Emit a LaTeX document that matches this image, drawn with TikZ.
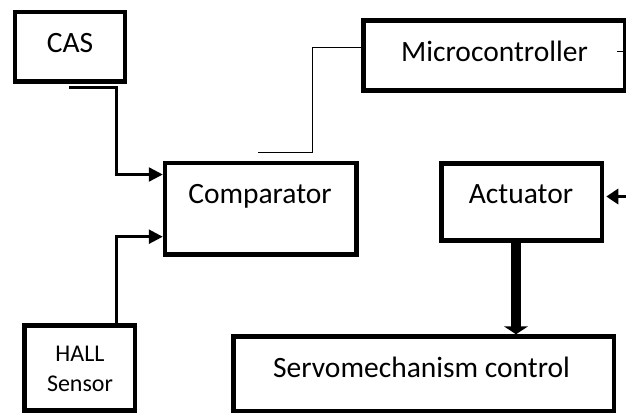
\documentclass[tikz,border=0pt]{standalone}
\usepackage{fontspec}
\setmainfont{Carlito}
\usetikzlibrary{arrows.meta}
\begin{document}
\begin{tikzpicture}[x=1pt,y=-1pt,
  box/.style={draw, line width=4.5pt, rectangle, inner sep=0pt},
  lbl/.style={inner sep=0pt, anchor=base, font=\fontsize{29.5}{35}\selectfont},
  conn/.style={line width=2.5pt},
  thinline/.style={line width=1pt},
  tri/.style={-{Triangle[length=14pt,width=14pt]}}
]
\clip (0,0) rectangle (626,413);
\fill[white] (0,0) rectangle (626,413);

% boxes
\node[box, minimum width=110pt, minimum height=69.5pt] (cas) at (70,46.75) {};
\node[box, minimum width=191.5pt, minimum height=91.5pt] (cmp) at (260.75,208.75) {};
\node[box, minimum width=261.5pt, minimum height=70pt] (mc) at (494.25,55.5) {};
\node[box, minimum width=160.5pt, minimum height=77pt] (act) at (521.75,202) {};
\node[box, minimum width=380.5pt, minimum height=74.5pt] (servo) at (423.75,373.75) {};
\node[box, minimum width=110.5pt, minimum height=85pt] (hall) at (79.75,368) {};

% texts
\node[lbl] (castext) at (70,52) {CAS};
\node[lbl] (mctext) at (494.5,61) {Microcontroller};
\node[lbl] (cmptext) at (260,203) {Comparator};
\node[lbl] (acttext) at (521,203) {Actuator};
\node[lbl] (servotext) at (421.5,377) {Servomechanism control};
\node[inner sep=0pt, align=center, font=\fontsize{24}{30}\selectfont] (halltext) at (80,369.2) {HALL\\Sensor};

% connectors
\coordinate (casout) at (69,87.5);
\draw[conn,tri] (casout) -- (116.7,87.5) -- (116.7,174.5) -- (cmp.west |- 0,174.5);
\draw[conn,tri] (hall.north -| 116.7,0) -- (116.7,236.7) -- (cmp.west |- 0,236.7);

\coordinate (thinstart) at (258,152.3);
\draw[thinline] (thinstart) -- (312.5,152.3) -- (312.5,47.8) -- (mc.west |- 0,47.8);

\coordinate (tick) at (617,51.7);
\draw[line width=1.5pt] (tick) -- (mc.east |- 0,51.7);

\coordinate (actin) at (630,196.5);
\draw[line width=3pt,-{Triangle[length=12pt,width=15pt]}] (actin) -- ([xshift=2pt]act.east |- 0,196.5);

\draw[line width=10pt,-{Triangle[length=8pt,width=24pt]}] (act.south -| 516,0) -- (servo.north -| 516,0);
\end{tikzpicture}
\end{document}
